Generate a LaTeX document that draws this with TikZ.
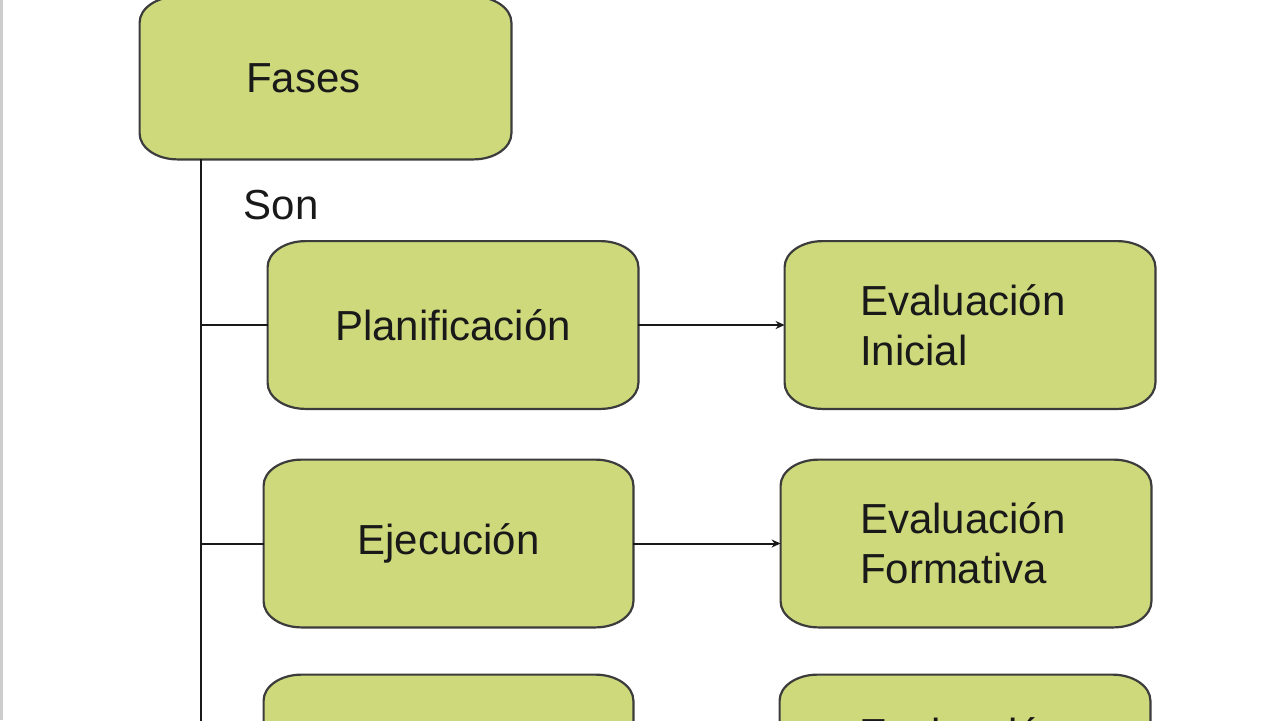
\documentclass[tikz,border=0pt]{standalone}
\usepackage{fontspec}
\setmainfont{Liberation Sans}
\usetikzlibrary{arrows.meta}
\pgfdeclarelayer{background}
\pgfsetlayers{background,main}
\definecolor{boxfill}{RGB}{205,217,123}
\definecolor{boxline}{RGB}{60,60,60}
\definecolor{txt}{RGB}{25,25,25}
\definecolor{edgegray}{RGB}{205,205,205}
\newcommand\ellbox[1]{%
\path[shapeline] ([xshift=19pt]#1.north west) -- ([xshift=-19pt]#1.north east)
  arc[start angle=90,end angle=0,x radius=19pt,y radius=13pt]
  -- ([yshift=13pt]#1.south east)
  arc[start angle=0,end angle=-90,x radius=19pt,y radius=13pt]
  -- ([xshift=19pt]#1.south west)
  arc[start angle=270,end angle=180,x radius=19pt,y radius=13pt]
  -- ([yshift=-13pt]#1.north west)
  arc[start angle=180,end angle=90,x radius=19pt,y radius=13pt] -- cycle;}
\tikzset{
  shapeline/.style={fill=boxfill,draw=boxline,line width=1.1pt},
  box/.style={rectangle,inner sep=0pt,text=txt,font=\fontsize{21pt}{25pt}\selectfont,
    minimum width=185pt,minimum height=83.5pt},
  evbox/.style={box,align=left},
  lbl/.style={text=txt,inner sep=0pt,font=\fontsize{21pt}{25pt}\selectfont},
  conn/.style={draw=txt,line width=1pt},
  arrow/.style={conn,-{Stealth[length=4.5pt,width=4pt]}}
}
\begin{document}
\begin{tikzpicture}[x=0.5pt,y=0.5pt]
\clip (0,0) rectangle (1280,-720);
\useasboundingbox (0,0) rectangle (1280,-720);

\node[evbox,text width=79.5pt,minimum width=185.5pt,minimum height=81pt] (fases) at (325.5,-78) {Fases};
\node[lbl] (son) at (281,-205) {Son};

\node[box] (plan) at (453,-325) {Planificación};
\node[evbox,text width=110pt] (evini) at (970,-325) {Evaluación\\Inicial};

\node[box,minimum width=184.5pt] (ejec) at (448.5,-543.5) {Ejecución};
\node[evbox,text width=106pt] (evfor) at (966,-543.5) {Evaluación\\Formativa};

\node[box,minimum width=184.5pt] (eval) at (448.5,-758.5) {};
\node[evbox,text width=106pt] (evfin) at (965,-758.5) {Evaluación\\\mbox{}};

\coordinate (trunkend) at (201,-760);

\begin{pgfonlayer}{background}
\fill[white] (0,0) rectangle (1280,-720);
\fill[edgegray] (0,0) rectangle (2.5,-720);
\ellbox{fases}
\ellbox{plan}
\ellbox{evini}
\ellbox{ejec}
\ellbox{evfor}
\ellbox{eval}
\ellbox{evfin}
\end{pgfonlayer}

\draw[conn] (fases.south -| trunkend) -- (trunkend);
\draw[conn] (plan.west -| trunkend) -- (plan.west);
\draw[conn] (ejec.west -| trunkend) -- (ejec.west);
\draw[conn] (eval.west -| trunkend) -- (eval.west);
\draw[arrow] (plan.east) -- (evini.west);
\draw[arrow] (ejec.east) -- (evfor.west);
\draw[arrow] (eval.east) -- (evfin.west);
\end{tikzpicture}
\end{document}
